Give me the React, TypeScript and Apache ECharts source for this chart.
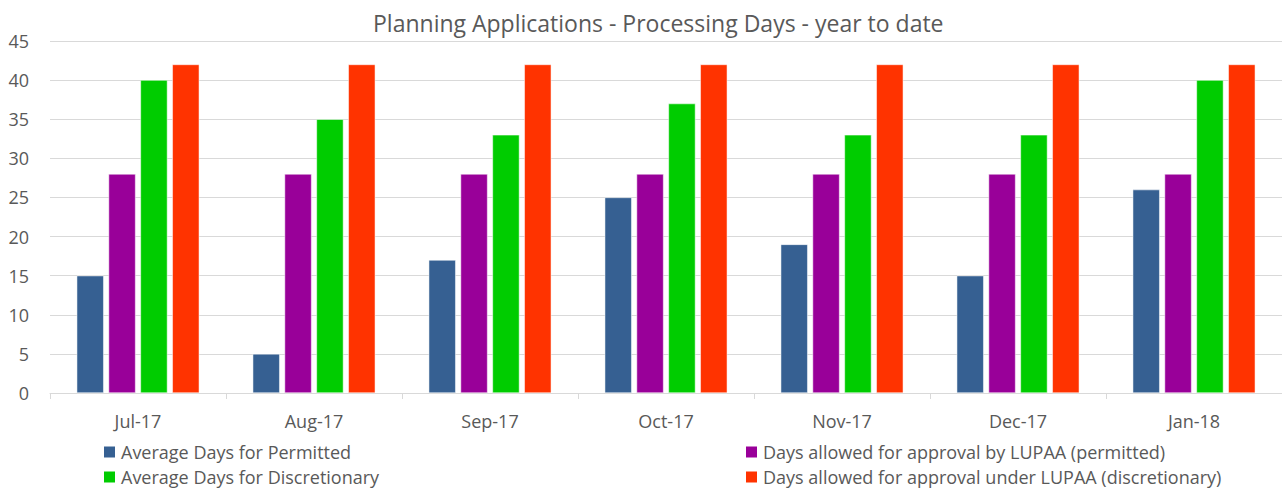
import React, { useEffect, useRef } from "react";
import * as echarts from "echarts";

const categories = ["Jul-17", "Aug-17", "Sep-17", "Oct-17", "Nov-17", "Dec-17", "Jan-18"];
const avgPermitted = [15, 5, 17, 25, 19, 15, 26];
const allowedPermitted = [28, 28, 28, 28, 28, 28, 28];
const avgDiscretionary = [40, 35, 33, 37, 33, 33, 40];
const allowedDiscretionary = [42, 42, 42, 42, 42, 42, 42];

const seriesNames = [
  "Average Days for Permitted",
  "Days allowed for approval by LUPAA (permitted)",
  "Average Days for Discretionary",
  "Days allowed for approval under LUPAA (discretionary)",
];
const colors = ["#366092", "#990099", "#00cc00", "#ff3300"];
const FONT = "'Open Sans', sans-serif";
const TXT = "#595959";

export default function App() {
  const ref = useRef<HTMLDivElement>(null);
  useEffect(() => {
    if (!ref.current) return;
    const chart = echarts.init(ref.current, undefined, { renderer: "svg" });
    const datas = [avgPermitted, allowedPermitted, avgDiscretionary, allowedDiscretionary];
    const legendCommon = {
      orient: "vertical",
      top: 443,
      height: 60,
      padding: 0,
      itemWidth: 13,
      itemHeight: 13,
      itemGap: 7,
      icon: "rect",
      textStyle: { color: TXT, fontSize: 18, lineHeight: 18, fontFamily: FONT, padding: [0, 0, 0, 0] },
    };
    chart.setOption({
      animation: false,
      color: colors,
      title: {
        text: "Planning Applications - Processing Days - year to date",
        left: 368,
        top: 6,
        textStyle: { color: TXT, fontSize: 23, fontWeight: "normal", fontFamily: FONT },
      },
      legend: [
        { ...legendCommon, left: 102, data: [seriesNames[0], seriesNames[2]] },
        { ...legendCommon, left: 744, data: [seriesNames[1], seriesNames[3]] },
      ],
      grid: { left: 50, right: 0, top: 41, bottom: 95 },
      xAxis: {
        type: "category",
        data: categories,
        axisLine: { lineStyle: { color: "#d9d9d9", width: 1 } },
        axisTick: { show: true, length: 6, lineStyle: { color: "#d9d9d9" } },
        axisLabel: { color: TXT, fontSize: 18, fontFamily: FONT, margin: 19 },
      },
      yAxis: {
        type: "value",
        min: 0,
        max: 45,
        interval: 5,
        axisLine: { show: false },
        axisTick: { show: false },
        axisLabel: { color: TXT, fontSize: 18, fontFamily: FONT, margin: 21 },
        splitLine: { lineStyle: { color: "#d9d9d9", width: 1 } },
      },
      series: seriesNames.map((name, i) => ({
        name,
        type: "bar",
        data: datas[i],
        barWidth: 27,
        barGap: "18%",
        itemStyle: { color: colors[i], borderColor: "#ffffff", borderWidth: 0.5 },
      })),
    });
    return () => chart.dispose();
  }, []);
  return (
    <div
      ref={ref}
      style={{ position: "fixed", left: 0, top: 0, width: 1282, height: 488, background: "#fff" }}
    />
  );
}
